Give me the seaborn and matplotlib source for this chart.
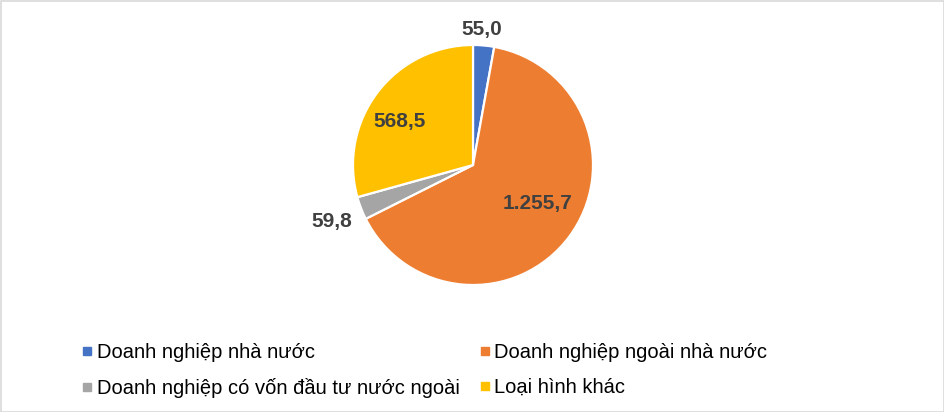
import numpy as np
import matplotlib
matplotlib.use("Agg")
import matplotlib.pyplot as plt
import seaborn as sns
from matplotlib.lines import Line2D
from matplotlib.patches import Rectangle

categories = ['Doanh nghiệp nhà nước',
              'Doanh nghiệp ngoài nhà nước',
              'Doanh nghiệp có vốn đầu tư nước ngoài',
              'Loại hình khác']
values = [55.0, 1255.7, 59.8, 568.5]
value_labels = ['55,0', '1.255,7', '59,8', '568,5']
colors = ['#4472C4', '#ED7D31', '#A5A5A5', '#FFC000']

# label placement: radius (in pie radii) and small angle shift (deg) per slice
label_radius = [1.13, 0.63, 1.27, 0.71]
label_shift = [1.3, 6.0, 0.7, 6.5]

sns.set_theme(style="white")
plt.rcParams['font.family'] = ['Liberation Sans', 'DejaVu Sans']

fig = plt.figure(figsize=(9.45, 4.12), dpi=100)
W, H = 945, 412
cx, cy, r = 473, 165, 120
ax = fig.add_axes([(cx - r) / W, (H - cy - r) / H, 2 * r / W, 2 * r / H])

wedges, _ = ax.pie(values, colors=colors, startangle=90, counterclock=False,
                   radius=1, wedgeprops=dict(edgecolor='white', linewidth=1.6))
ax.set_xlim(-1, 1)
ax.set_ylim(-1, 1)
ax.axis('off')

for w, lab, rd, sh in zip(wedges, value_labels, label_radius, label_shift):
    mid = np.deg2rad((w.theta1 + w.theta2) / 2 + sh)
    ax.text(rd * np.cos(mid), rd * np.sin(mid), lab, ha='center', va='center',
            fontsize=15, fontweight='bold', color='#404040', clip_on=False)

# legend is filled column-wise, so reorder to get row-wise entries
order = [0, 2, 1, 3]
handles = [Line2D([], [], marker='s', linestyle='none', markersize=5.5,
                  markerfacecolor=colors[i], markeredgecolor=colors[i]) for i in order]
fig.legend(handles, [categories[i] for i in order], ncol=2, loc='upper left',
           bbox_to_anchor=(72 / W, 1 - 333 / H), frameon=False,
           fontsize=14.5, handlelength=0.5, handletextpad=0.22,
           columnspacing=1.0, labelspacing=0.78, borderpad=0,
           labelcolor='black')

fig.patches.append(Rectangle((0.5 / W, 0.5 / H), 1 - 1.5 / W, 1 - 1.5 / H,
                             transform=fig.transFigure, fill=False,
                             edgecolor='#D9D9D9', linewidth=1.2))

fig.savefig('out.png', dpi=100, facecolor='white')
